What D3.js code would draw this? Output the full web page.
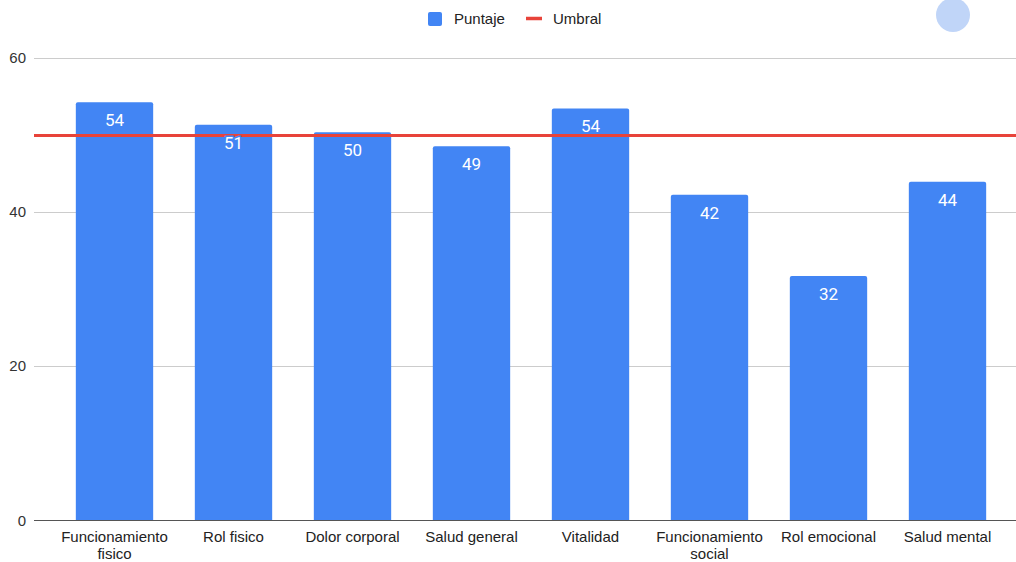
<!DOCTYPE html>
<html><head><meta charset="utf-8">
<script src="https://cdn.jsdelivr.net/npm/d3@7"></script>
<style>body{margin:0;background:#fff}svg{display:block}</style>
</head><body>
<svg id="c" width="1016" height="562"></svg>
<script>
const categories = ["Funcionamiento fisico","Rol fisico","Dolor corporal","Salud general","Vitalidad","Funcionamiento social","Rol emocional","Salud mental"];
const puntaje = [54.2, 51.3, 50.3, 48.5, 53.4, 42.2, 31.7, 43.9];
const labels = ["54","51","50","49","54","42","32","44"];
const umbral = 50;
const yTicks = [0, 20, 40, 60];

const svg = d3.select("#c");
const font = "Arial, 'Liberation Sans', sans-serif";
const x = d3.scaleBand().domain(categories).range([55, 1007]).paddingInner(0.35).paddingOuter(0.175);
const y = d3.scaleLinear().domain([0, 60]).range([520.5, 57.5]);

// gridlines
svg.append("g").selectAll("line").data(yTicks.filter(d => d > 0)).join("line")
  .attr("x1", 34).attr("x2", 1016)
  .attr("y1", d => Math.round(y(d)) + 0.5).attr("y2", d => Math.round(y(d)) + 0.5)
  .attr("stroke", "#cccccc").attr("stroke-width", 1);

// y tick labels
svg.append("g").selectAll("text").data(yTicks).join("text")
  .attr("x", 26).attr("y", d => y(d) + 5)
  .attr("text-anchor", "end").attr("font-family", font).attr("font-size", 15).attr("fill", "#333")
  .text(d => d);

// bars
svg.append("g").selectAll("path").data(categories).join("path")
  .attr("d", (c, i) => {
    const x0 = x(c), w = x.bandwidth(), y0 = y(puntaje[i]), yb = y(0), r = 2;
    return `M${x0},${yb}V${y0 + r}Q${x0},${y0} ${x0 + r},${y0}H${x0 + w - r}Q${x0 + w},${y0} ${x0 + w},${y0 + r}V${yb}Z`;
  })
  .attr("fill", "#4285f4");

// threshold line
svg.append("line")
  .attr("x1", 34).attr("x2", 1016)
  .attr("y1", y(umbral) + 0.8).attr("y2", y(umbral) + 0.8)
  .attr("stroke", "#e8433a").attr("stroke-width", 3);

// bar value labels
svg.append("g").selectAll("text").data(categories).join("text")
  .attr("x", c => x(c) + x.bandwidth() / 2)
  .attr("y", (c, i) => y(puntaje[i]) + 24)
  .attr("text-anchor", "middle").attr("font-family", "Roboto, Arial, sans-serif").attr("font-size", 17)
  .attr("fill", "#fff").attr("stroke", "#4285f4").attr("stroke-width", 3).attr("paint-order", "stroke")
  .text((c, i) => labels[i]);

// zero axis line
svg.append("line").attr("x1", 34).attr("x2", 1016).attr("y1", y(0)).attr("y2", y(0))
  .attr("stroke", "#555").attr("stroke-width", 1);

// x axis labels (wrapped)
const xl = svg.append("g").selectAll("text").data(categories).join("text")
  .attr("text-anchor", "middle").attr("font-family", font).attr("font-size", 15).attr("fill", "#222");
xl.each(function(c) {
  const cx = x(c) + x.bandwidth() / 2;
  const parts = c.startsWith("Funcionamiento") ? ["Funcionamiento", c.slice(15)] : [c];
  d3.select(this).selectAll("tspan").data(parts).join("tspan")
    .attr("x", cx).attr("y", (d, j) => 542 + j * 17).text(d => d);
});

// legend
const lg = svg.append("g");
lg.append("rect").attr("x", 428).attr("y", 12).attr("width", 14).attr("height", 14).attr("rx", 2).attr("fill", "#4285f4");
lg.append("text").attr("x", 454).attr("y", 24).attr("font-family", font).attr("font-size", 15).attr("fill", "#222").text("Puntaje");
lg.append("line").attr("x1", 526).attr("x2", 542).attr("y1", 18.5).attr("y2", 18.5).attr("stroke", "#e8433a").attr("stroke-width", 3.5);
lg.append("text").attr("x", 553).attr("y", 24).attr("font-family", font).attr("font-size", 15).attr("fill", "#222").text("Umbral");

// decorative circle
svg.append("circle").attr("cx", 953).attr("cy", 15).attr("r", 17).attr("fill", "#c0d5f8");
</script>
</body></html>
